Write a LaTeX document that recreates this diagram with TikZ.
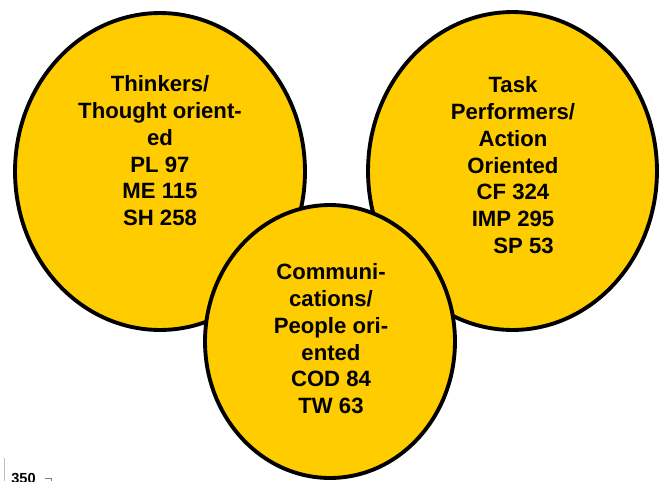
\documentclass[tikz,border=0pt]{standalone}
\usepackage{fontspec}
\setmainfont{Liberation Sans}
\usetikzlibrary{shapes.geometric}
\definecolor{gold}{RGB}{255,204,0}

\begin{document}
\begin{tikzpicture}[
    x=0.02cm, y=-0.02cm,
    every node/.style={font=\bfseries\fontsize{12.6}{15.3}\selectfont},
    blob/.style={ellipse, draw=black, fill=gold, line width=2.2pt, inner sep=0pt},
    txt/.style={align=center, inner sep=0pt, anchor=north} % text blocks
]
    \clip (0, 0) rectangle (660, 481);
    \node[blob, minimum width=5.8cm, minimum height=6.34cm] (e1) at (160, 171.5) {};
    \node[blob, minimum width=5.78cm, minimum height=6.36cm] (e2) at (512.5, 171) {};
    \node[blob, minimum width=5cm, minimum height=5.46cm] (e3) at (330, 341.5) {};
    \node[txt] (t1) at (160, 75) {Thinkers/\\Thought orient-\\ed\\PL 97\\ME 115\\SH 258};
    \node[txt] (t2) at (513, 76) {Task\\Performers/\\Action\\Oriented\\CF 324\\IMP 295\\\hspace*{0.95em}SP 53};
    \node[txt] (t3) at (331, 263) {Communi-\\cations/\\People ori-\\ented\\COD 84\\TW 63};
    % cut-off axis fragment
    \draw[gray!50, line width=0.5pt] (4, 458) -- (4, 481);
    \node[anchor=north west, inner sep=0pt, font=\bfseries\fontsize{8.3}{10}\selectfont] (n350) at (11, 473) {350};
    \draw[gray, line width=0.4pt] (45, 478) -- (51, 478) -- (51, 481);
\end{tikzpicture}
\end{document}
